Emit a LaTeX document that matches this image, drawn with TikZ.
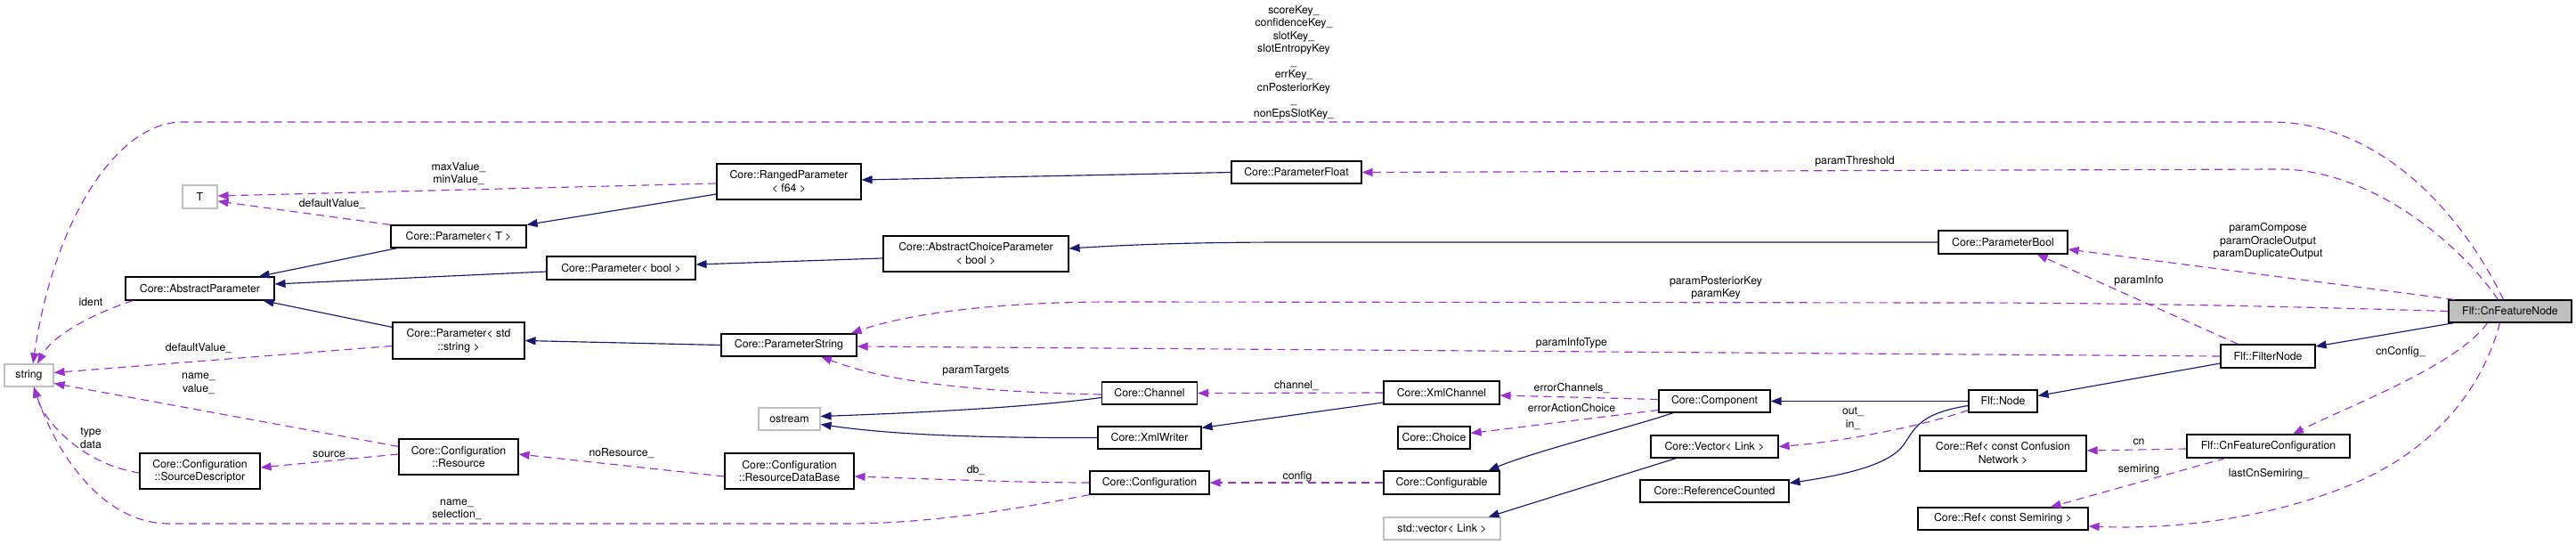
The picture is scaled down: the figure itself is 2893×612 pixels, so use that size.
\documentclass[tikz,border=0pt]{standalone}
\usepackage{fontspec}
\setmainfont{TeX Gyre Heros}
\usetikzlibrary{arrows.meta,calc}
\definecolor{inhcol}{HTML}{191970}
\definecolor{usecol}{HTML}{9A32CD}
\definecolor{graybd}{HTML}{BFBFBF}
\begin{document}
\begin{tikzpicture}[x=1pt,y=-1pt,
  font=\fontsize{12.3}{14.5}\selectfont,
  box/.style={draw=black,line width=1.15pt,inner sep=0pt,align=center,fill=white},
  ext/.style={draw=graybd,line width=1.15pt,inner sep=0pt,align=center,fill=white},
  inh/.style={draw=inhcol,line width=1.15pt,-{Triangle[length=12pt,width=9pt]},fill=none},
  use/.style={draw=usecol,line width=1.15pt,dash pattern=on 9pt off 6pt,-{Triangle[length=12pt,width=9pt]},fill=none},
  lbl/.style={inner sep=0pt,align=center}]
\useasboundingbox (0,0) rectangle (2893,612);
\fill[white] (0,0) rectangle (2893,612);
% nodes
\node[ext,minimum width=39pt,minimum height=26pt] (T) at (224.5,221) {T};
\node[box,minimum width=162pt,minimum height=40pt] (RP) at (886,204) {Core::RangedParameter\\{}< f64 >};
\node[box,minimum width=152pt,minimum height=25pt] (PT) at (515,265.5) {Core::Parameter< T >};
\node[box,minimum width=167pt,minimum height=26pt] (PB) at (697.5,301) {Core::Parameter< bool >};
\node[box,minimum width=167pt,minimum height=26pt] (AP) at (224.5,324) {Core::AbstractParameter};
\node[ext,minimum width=55pt,minimum height=25pt] (STR) at (32.5,421.5) {string};
\node[box,minimum width=148pt,minimum height=41pt] (PS2) at (515,382.5) {Core::Parameter< std\\::string >};
\node[box,minimum width=152pt,minimum height=25pt] (PS) at (886,387.5) {Core::ParameterString};
\node[ext,minimum width=69pt,minimum height=25pt] (OS) at (886.5,470.5) {ostream};
\node[box,minimum width=134pt,minimum height=40pt] (RES) at (515,513) {Core::Configuration\\::Resource};
\node[box,minimum width=135pt,minimum height=40pt] (SD) at (224.5,529) {Core::Configuration\\::SourceDescriptor};
\node[box,minimum width=145pt,minimum height=40pt] (RDB) at (886.5,529) {Core::Configuration\\::ResourceDataBase};
\node[box,minimum width=146pt,minimum height=25pt] (PF) at (1456,193.5) {Core::ParameterFloat};
\node[box,minimum width=208pt,minimum height=40pt] (ACP) at (1096,285) {Core::AbstractChoiceParameter\\{}< bool >};
\node[box,minimum width=107pt,minimum height=25pt] (CH) at (1291,441.5) {Core::Channel};
\node[box,minimum width=116pt,minimum height=25pt] (XW) at (1291,491.5) {Core::XmlWriter};
\node[box,minimum width=134pt,minimum height=26pt] (CFG) at (1291,542) {Core::Configuration};
\node[box,minimum width=130pt,minimum height=26pt] (XC) at (1619,441) {Core::XmlChannel};
\node[box,minimum width=81pt,minimum height=25pt] (CHO) at (1610.5,491.5) {Core::Choice};
\node[box,minimum width=130pt,minimum height=26pt] (CFB) at (1619,542) {Core::Configurable};
\node[ext,minimum width=131pt,minimum height=25pt] (SV) at (1619.5,593.5) {std::vector< Link >};
\node[box,minimum width=125pt,minimum height=25pt] (COMP) at (1925.5,450.5) {Core::Component};
\node[box,minimum width=143pt,minimum height=25pt] (VEC) at (1925.5,501.5) {Core::Vector< Link >};
\node[box,minimum width=167pt,minimum height=25pt] (RC) at (1925.5,551.5) {Core::ReferenceCounted};
\node[box,minimum width=145pt,minimum height=26pt] (PBOOL) at (2249.5,272) {Core::ParameterBool};
\node[box,minimum width=77pt,minimum height=25pt] (NODE) at (2249.5,450.5) {Flf::Node};
\node[box,minimum width=187pt,minimum height=40pt] (RCN) at (2249.5,509) {Core::Ref< const Confusion\\Network >};
\node[box,minimum width=191pt,minimum height=25pt] (RSR) at (2249.5,582.5) {Core::Ref< const Semiring >};
\node[box,minimum width=106pt,minimum height=26pt] (FN) at (2547,400) {Flf::FilterNode};
\node[box,minimum width=183pt,minimum height=26pt] (CFC) at (2547.5,501) {Flf::CnFeatureConfiguration};
\node[box,fill=graybd,minimum width=138pt,minimum height=25pt] (CNF) at (2819,349.5) {Flf::CnFeatureNode};
% inheritance
\draw[inh] ($(RP.west)+(0,14)$) -- (PT.north east);
\draw[inh] (PF.west) -- ($(RP.east)+(0,-2)$);
\draw[inh] ($(PT.south west)+(8,0)$) -- ($(AP.north east)+(-18,0)$);
\draw[inh] ($(PB.west)+(0,4)$) -- ($(AP.east)+(0,-5)$);
\draw[inh] ($(ACP.west)+(0,5)$) -- ($(PB.east)+(0,-4)$);
\draw[inh] (PBOOL.west) -- (1450,272) .. controls (1320,272) and (1250,276) .. ($(ACP.east)+(0,-6)$);
\draw[inh] ($(PS2.north west)+(0,6)$) -- ($(AP.south east)+(-13,0)$);
\draw[inh] (PS.west) -- (PS2.east);
\draw[inh] ($(CH.west)+(0,5)$) .. controls (1150,458) and (1020,464) .. ($(OS.east)+(0,-3)$);
\draw[inh] (XW.west) .. controls (1100,492) and (1000,488) .. ($(OS.east)+(0,6)$);
\draw[inh] ($(XC.west)+(0,11)$) -- ($(XW.north east)+(0,2)$);
\draw[inh] ($(COMP.south west)+(17,0)$) .. controls (1830,480) and (1720,508) .. ($(CFB.north east)+(-13,0)$);
\draw[inh] (NODE.west) -- (COMP.east);
\draw[inh] ($(NODE.west)+(0,5)$) .. controls (2150,465) and (2150,485) .. (2135,503) .. controls (2115,525) and (2060,535) .. ($(RC.east)+(0,-9)$);
\draw[inh] ($(VEC.south west)+(29,0)$) -- ($(SV.north east)+(-14,0)$);
\draw[inh] ($(FN.west)+(0,8)$) -- ($(NODE.east)+(0,-6)$);
\draw[inh] ($(CNF.south west)+(7,0)$) -- ($(FN.east)+(0,-11)$);
% usage
\draw[use] ($(CNF.north west)+(62,0)$) .. controls (2770,250) and (2680,137) .. (2550,137) -- (205,137) .. controls (130,137) and (60,250) .. ($(STR.north)+(4.5,0)$);
\draw[use] ($(CNF.north west)+(56,0)$) .. controls (2760,270) and (2660,190) .. (2560,190) -- (PF.east);
\draw[use] ($(CNF.north west)+(7,0)$) -- ($(PBOOL.east)+(0,8)$);
\draw[use] (CNF.west) .. controls (2600,345) and (2400,340) .. (2200,340) -- (1250,339) .. controls (1120,339) and (1020,352) .. ($(PS.north east)+(-7,0)$);
\draw[use] ($(FN.north west)+(20,0)$) -- ($(PBOOL.south east)+(-35,0)$);
\draw[use] (FN.west) -- ($(PS.east)+(0,1.5)$);
\draw[use] ($(CNF.south east)+(-95,0)$) .. controls (2760,410) and (2640,455) .. ($(CFC.north)+(27.5,0)$);
\draw[use] ($(CNF.south west)+(58,0)$) .. controls (2790,430) and (2740,500) .. (2650,540) .. controls (2560,580) and (2450,595) .. ($(RSR.east)+(0,8.5)$);
\draw[use] ($(CFC.west)+(0,3)$) -- ($(RCN.east)+(0,-3)$);
\draw[use] ($(CFC.south west)+(44,0)$) -- ($(RSR.north east)+(-43,0)$);
\draw[use] ($(NODE.south west)+(0,-3)$) .. controls (2170,475) and (2080,495) .. (VEC.east);
\draw[use] ($(COMP.west)+(0,-2)$) -- ($(XC.east)+(0,3)$);
\draw[use] ($(COMP.west)+(0,10)$) -- ($(CHO.east)+(0,-5)$);
\draw[use] (XC.west) -- (CH.east);
\draw[use] ($(CH.west)+(0,1.5)$) .. controls (1100,440) and (1000,430) .. ($(PS.south)+(36,0)$);
\draw[use] (CFB.west) -- (CFG.east);
\draw[use] (CFG.west) .. controls (1150,542) and (1050,538) .. ($(RDB.east)+(0,6)$);
\draw[use] (CFG.south west) .. controls (1150,570) and (1050,588) .. (950,588) -- (190,588) .. controls (110,588) and (60,500) .. ($(STR.south)+(5.5,0)$);
\draw[use] ($(RDB.west)+(0,6)$) -- ($(RES.east)+(0,-3)$);
\draw[use] ($(RES.west)+(0,-3)$) -- ($(SD.east)+(0,-4)$);
\draw[use] ($(RES.north west)+(0,9)$) -- ($(STR.east)+(0,9)$);
\draw[use] ($(SD.west)+(0,2)$) .. controls (95,522) and (50,475) .. ($(STR.south)+(5.5,0)$);
\draw[use] ($(PS2.west)+(0,6)$) -- ($(STR.east)+(0,-3)$);
\draw[use] ($(AP.south west)+(9,0)$) .. controls (110,350) and (60,375) .. ($(STR.north)+(9.5,0)$);
\draw[use] ($(RP.west)+(0,2)$) -- ($(T.east)+(0,-1)$);
\draw[use] (PT.north west) -- ($(T.east)+(0,5)$);
% labels
\node[lbl] (l1) at (1453,70) {scoreKey\_\\confidenceKey\_\\slotKey\_\\slotEntropyKey\\\_\\errKey\_\\cnPosteriorKey\\\_\\nonEpsSlotKey\_};
\node[lbl] (l2) at (2083,181) {paramThreshold};
\node[lbl] (l3) at (2547,271) {paramCompose\\paramOracleOutput\\paramDuplicateOutput};
\node[lbl] (l4) at (1927,323.5) {paramPosteriorKey\\paramKey};
\node[lbl] (l5) at (2402,315) {paramInfo};
\node[lbl] (l6) at (1765,385) {paramInfoType};
\node[lbl] (l7) at (2696,395) {cnConfig\_};
\node[lbl] (l8) at (2548,532) {lastCnSemiring\_};
\node[lbl] (l9) at (2402,496) {cn};
\node[lbl] (l10) at (2402,527) {semiring};
\node[lbl] (l11) at (2081,470) {out\_\\in\_};
\node[lbl] (l12) at (1765,436) {errorChannels\_};
\node[lbl] (l13) at (1765,458) {errorActionChoice};
\node[lbl] (l14) at (1456,433) {channel\_};
\node[lbl] (l15) at (1096,416) {paramTargets};
\node[lbl] (l16) at (1457,535) {config};
\node[lbl] (l17) at (1096,528) {db\_};
\node[lbl] (l18) at (513,572.5) {name\_\\selection\_};
\node[lbl] (l19) at (698,509) {noResource\_};
\node[lbl] (l20) at (373,511) {source\_};
\node[lbl] (l21) at (223,431) {name\_\\value\_};
\node[lbl] (l22) at (102,492) {type\\data};
\node[lbl] (l23) at (223,391) {defaultValue\_};
\node[lbl] (l24) at (102,339) {ident};
\node[lbl] (l25) at (515,195) {maxValue\_\\minValue\_};
\node[lbl] (l26) at (373,229) {defaultValue\_};
\end{tikzpicture}
\end{document}
